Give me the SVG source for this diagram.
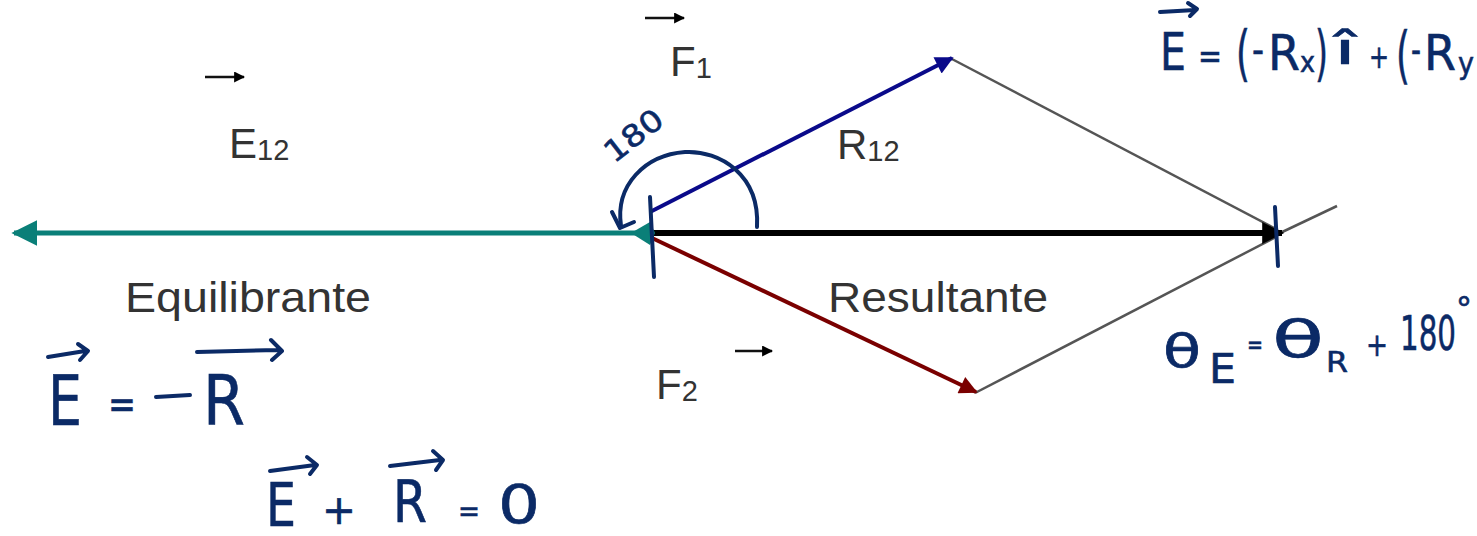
<svg xmlns="http://www.w3.org/2000/svg" width="1477" height="536" viewBox="0 0 1477 536">
<defs>
<marker id="hBlue" viewBox="0 0 10 10" refX="9" refY="5" markerWidth="22" markerHeight="18" markerUnits="userSpaceOnUse" orient="auto"><path d="M0,0 L10,5 L0,10 z" fill="#0a0a8a"/></marker>
<marker id="hRed" viewBox="0 0 10 10" refX="9" refY="5" markerWidth="22" markerHeight="18" markerUnits="userSpaceOnUse" orient="auto"><path d="M0,0 L10,5 L0,10 z" fill="#7a0000"/></marker>
<marker id="hBlack" viewBox="0 0 10 10" refX="9" refY="5" markerWidth="24" markerHeight="22" markerUnits="userSpaceOnUse" orient="auto"><path d="M0,0 L10,5 L0,10 z" fill="#000"/></marker>
<marker id="hTeal" viewBox="0 0 10 10" refX="9" refY="5" markerWidth="26" markerHeight="26" markerUnits="userSpaceOnUse" orient="auto"><path d="M0,0 L10,5 L0,10 z" fill="#0a7f78"/></marker>
<marker id="hSmall" viewBox="0 0 10 10" refX="9" refY="5" markerWidth="11" markerHeight="11" markerUnits="userSpaceOnUse" orient="auto"><path d="M0,0 L10,5 L0,10 z" fill="#000"/></marker>
</defs>
<style>
.lbl{font-family:"Liberation Sans",Arial,sans-serif;fill:#333;font-size:42px}
.sub{font-size:29px}
.hw{font-family:"DejaVu Sans","Liberation Sans",sans-serif;fill:#0b2a66;stroke:#0b2a66;stroke-width:0.6}
.hwl{fill:none;stroke:#0b2a66;stroke-width:4;stroke-linecap:round;stroke-linejoin:round}
.gray{stroke:#555;stroke-width:2.5;fill:none}
.sm{stroke:#111;stroke-width:2.5;fill:none}
</style>
<rect width="1477" height="536" fill="#fff"/>
<g id="connectors">
<line class="gray" x1="950" y1="58" x2="1278" y2="230"/>
<line class="gray" x1="975" y1="393" x2="1278" y2="236"/>
<line class="gray" x1="1278" y1="234" x2="1337" y2="206"/>
<line x1="652" y1="233" x2="1282" y2="233" stroke="#000" stroke-width="6" marker-end="url(#hBlack)"/>
<line x1="650" y1="212" x2="952" y2="58" stroke="#0a0a8a" stroke-width="4" marker-end="url(#hBlue)"/>
<line x1="652" y1="238" x2="976" y2="392" stroke="#7a0000" stroke-width="4" marker-end="url(#hRed)"/>
<line x1="645" y1="233" x2="14" y2="233" stroke="#0a7f78" stroke-width="5" marker-end="url(#hTeal)"/>
<path d="M631,233 L650,222 L655,233 L650,245 Z" fill="#0a7f78"/>
</g>
<g id="F1">
<line class="sm" x1="645" y1="18" x2="684" y2="18" marker-end="url(#hSmall)"/>
<text class="lbl" x="670" y="76">F<tspan class="sub" dy="2">1</tspan></text>
</g>
<g id="E12">
<line class="sm" x1="205" y1="77" x2="244" y2="77" marker-end="url(#hSmall)"/>
<text class="lbl" x="229" y="158">E<tspan class="sub" dy="2">12</tspan></text>
</g>
<g id="R12">
<text class="lbl" x="837" y="159">R<tspan class="sub" dy="2">12</tspan></text>
</g>
<g id="F2">
<line class="sm" x1="735" y1="351" x2="772" y2="351" marker-end="url(#hSmall)"/>
<text class="lbl" x="656" y="399">F<tspan class="sub" dy="2">2</tspan></text>
</g>
<g id="Equilibrante">
<text class="lbl" x="125" y="312" textLength="246" lengthAdjust="spacingAndGlyphs">Equilibrante</text>
</g>
<g id="Resultante">
<text class="lbl" x="828" y="312" textLength="220" lengthAdjust="spacingAndGlyphs">Resultante</text>
</g>
<g id="annotations">
<path class="hwl" d="M757,227 C760,175 720,150 685,152 C645,155 615,185 621,226"/>
<path class="hwl" d="M612,212 L620,228 L634,222"/>
<line class="hwl" x1="650" y1="197" x2="654" y2="277"/>
<line class="hwl" x1="1275" y1="207" x2="1278" y2="266"/>
<text class="hw" font-size="30" transform="translate(614,164) rotate(-38)" textLength="66" lengthAdjust="spacingAndGlyphs">180</text>
<g id="eq-top">
<path class="hwl" d="M1160,12 L1195,10 M1188,3 L1197,9 L1190,16"/>
<text class="hw" font-size="52" x="1160" y="70" textLength="26" lengthAdjust="spacingAndGlyphs">E</text>
<text class="hw" font-size="36" x="1198" y="68" textLength="24" lengthAdjust="spacingAndGlyphs">=</text>
<text class="hw" font-size="60" x="1236" y="74" textLength="14" lengthAdjust="spacingAndGlyphs">(</text>
<text class="hw" font-size="40" x="1252" y="64" textLength="12" lengthAdjust="spacingAndGlyphs">-</text>
<text class="hw" font-size="50" x="1268" y="70" textLength="32" lengthAdjust="spacingAndGlyphs">R</text>
<text class="hw" font-size="28" x="1300" y="72" textLength="15" lengthAdjust="spacingAndGlyphs">x</text>
<text class="hw" font-size="60" x="1315" y="74" textLength="13" lengthAdjust="spacingAndGlyphs">)</text>
<text class="hw" font-size="44" x="1334" y="64" textLength="22" lengthAdjust="spacingAndGlyphs">î</text>
<text class="hw" font-size="32" x="1369" y="68" textLength="20" lengthAdjust="spacingAndGlyphs">+</text>
<text class="hw" font-size="62" x="1396" y="76" textLength="14" lengthAdjust="spacingAndGlyphs">(</text>
<text class="hw" font-size="40" x="1411" y="64" textLength="10" lengthAdjust="spacingAndGlyphs">-</text>
<text class="hw" font-size="50" x="1424" y="70" textLength="32" lengthAdjust="spacingAndGlyphs">R</text>
<text class="hw" font-size="30" x="1458" y="74" textLength="16" lengthAdjust="spacingAndGlyphs">y</text>
</g>
<g id="eq-theta">
<text class="hw" font-size="46" x="1163" y="367" textLength="38" lengthAdjust="spacingAndGlyphs">θ</text>
<text class="hw" font-size="40" x="1209" y="383" textLength="27" lengthAdjust="spacingAndGlyphs">E</text>
<text class="hw" font-size="26" x="1247" y="354" textLength="16" lengthAdjust="spacingAndGlyphs">=</text>
<text class="hw" font-size="52" x="1272" y="357" textLength="52" lengthAdjust="spacingAndGlyphs">θ</text>
<text class="hw" font-size="28" x="1326" y="372" textLength="22" lengthAdjust="spacingAndGlyphs">R</text>
<text class="hw" font-size="32" x="1366" y="356" textLength="22" lengthAdjust="spacingAndGlyphs">+</text>
<text class="hw" font-size="48" x="1400" y="350" textLength="56" lengthAdjust="spacingAndGlyphs">180</text>
<text class="hw" font-size="32" x="1456" y="320" textLength="16" lengthAdjust="spacingAndGlyphs">°</text>
</g>
<g id="eq-neg">
<path class="hwl" d="M48,357 L85,351 M78,344 L88,351 L80,360"/>
<text class="hw" font-size="70" x="48" y="425" textLength="34" lengthAdjust="spacingAndGlyphs">E</text>
<text class="hw" font-size="40" x="108" y="418" textLength="28" lengthAdjust="spacingAndGlyphs">=</text>
<line class="hwl" x1="156" y1="397" x2="190" y2="395"/>
<path class="hwl" d="M197,352 L278,350 M271,340 L282,351 L272,360"/>
<text class="hw" font-size="70" x="203" y="424" textLength="42" lengthAdjust="spacingAndGlyphs">R</text>
</g>
<g id="eq-sum">
<path class="hwl" d="M270,471 L315,465 M307,457 L317,465 L310,474"/>
<text class="hw" font-size="60" x="266" y="526" textLength="30" lengthAdjust="spacingAndGlyphs">E</text>
<text class="hw" font-size="40" x="322" y="524" textLength="34" lengthAdjust="spacingAndGlyphs">+</text>
<path class="hwl" d="M390,466 L440,460 M433,451 L443,460 L436,470"/>
<text class="hw" font-size="58" x="393" y="522" textLength="34" lengthAdjust="spacingAndGlyphs">R</text>
<text class="hw" font-size="30" x="458" y="521" textLength="22" lengthAdjust="spacingAndGlyphs">=</text>
<text class="hw" font-size="54" x="498" y="523" textLength="42" lengthAdjust="spacingAndGlyphs">0</text>
</g>
</g>
</svg>
